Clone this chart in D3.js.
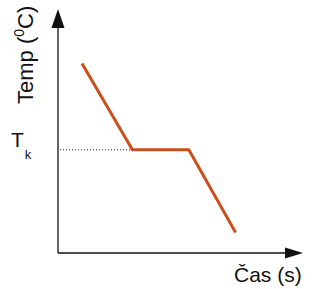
<!DOCTYPE html>
<html>
<head>
<meta charset="utf-8">
<script src="https://cdn.jsdelivr.net/npm/d3@7"></script>
<style>
  body { margin: 0; background: #fff; }
  text { font-family: "Liberation Sans", Arial, sans-serif; fill: #111; }
</style>
</head>
<body>
<div class="chart"></div>
<script>
// Cooling curve: time (arbitrary units) vs temperature (arbitrary units)
var timeValues = [1.0, 3.1, 5.45, 7.4];
var tempValues = [7.9, 4.3, 4.3, 0.85];
var tkLevel = 4.3;

var svgWidth = 322;
var svgHeight = 289;

var svg = d3.select(".chart")
  .append("svg")
  .attr("width", svgWidth)
  .attr("height", svgHeight);

// scales
var xScale = d3.scaleLinear()
  .domain([0, 10])
  .range([58, 298]);

var yScale = d3.scaleLinear()
  .domain([0, 10])
  .range([253, 13]);

var points = timeValues.map((t, i) => ({ t: t, temp: tempValues[i] }));

// axes with arrow heads
var x0 = xScale(0), y0 = yScale(0);

svg.append("line")
  .attr("x1", x0).attr("y1", y0)
  .attr("x2", 290).attr("y2", y0)
  .attr("stroke", "#111")
  .attr("stroke-width", 1.3);

svg.append("line")
  .attr("x1", x0).attr("y1", y0)
  .attr("x2", x0).attr("y2", 24)
  .attr("stroke", "#111")
  .attr("stroke-width", 1.3);

// up arrow
svg.append("path")
  .attr("d", `M${x0},9 L${x0 + 6.5},28 L${x0 - 6.5},28 Z`)
  .attr("fill", "#111");

// right arrow
svg.append("path")
  .attr("d", `M303,${y0} L285,${y0 - 5.5} L285,${y0 + 5.5} Z`)
  .attr("fill", "#111");

// dotted Tk guide
svg.append("line")
  .attr("x1", x0 + 2).attr("y1", yScale(tkLevel))
  .attr("x2", xScale(timeValues[1])).attr("y2", yScale(tkLevel))
  .attr("stroke", "#222")
  .attr("stroke-width", 1)
  .attr("stroke-dasharray", "1,2");

// curve
var line = d3.line()
  .x(d => xScale(d.t))
  .y(d => yScale(d.temp));

svg.append("path")
  .datum(points)
  .attr("d", line)
  .attr("fill", "none")
  .attr("stroke", "#c9501c")
  .attr("stroke-width", 3)
  .attr("stroke-linejoin", "miter");

// labels
var yLabel = svg.append("text")
  .attr("transform", "translate(33,104) rotate(-90)")
  .attr("text-anchor", "start")
  .style("font-size", "22px");
yLabel.append("tspan").text("Temp (");
yLabel.append("tspan").text("0").style("font-size", "14px").attr("dy", -9);
yLabel.append("tspan").text("C)").attr("dy", 9);

var tk = svg.append("text")
  .attr("x", 11)
  .attr("y", 147)
  .style("font-size", "21px");
tk.append("tspan").text("T");
tk.append("tspan").text("k").style("font-size", "13px").attr("dy", 12).attr("dx", 1);

svg.append("text")
  .attr("x", 234)
  .attr("y", 282)
  .style("font-size", "21px")
  .text("Čas (s)");
</script>
</body>
</html>
